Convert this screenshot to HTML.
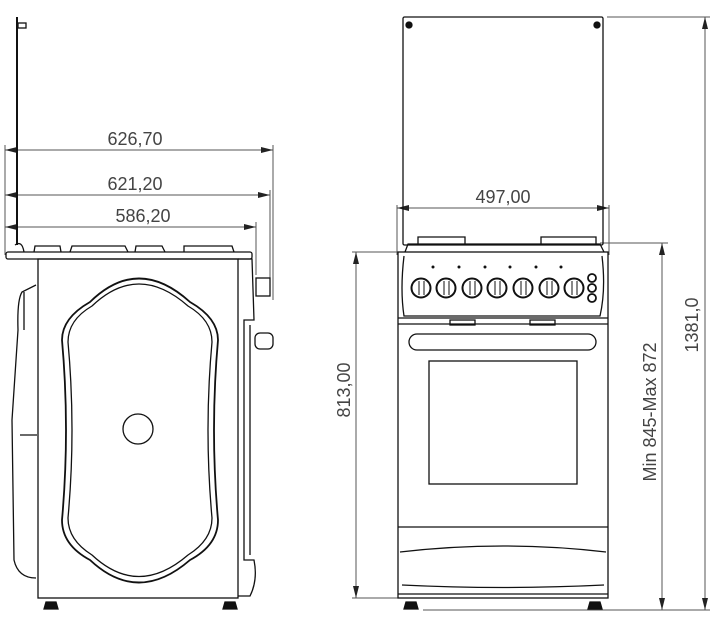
<!DOCTYPE html>
<html><head><style>html,body{margin:0;padding:0;background:#fff}svg{display:block}text{font-family:"Liberation Sans",sans-serif;fill:#444}</style></head>
<body>
<svg width="720" height="622" viewBox="0 0 720 622" xmlns="http://www.w3.org/2000/svg">
<defs>
<marker id="a" markerWidth="12" markerHeight="6" refX="12" refY="3" orient="auto-start-reverse" markerUnits="userSpaceOnUse"><path d="M0,0 L12,3 L0,6 Z" fill="#222"/></marker>
</defs>
<g stroke="#555" stroke-width="1" fill="none">
<line x1="5" y1="145" x2="5" y2="255"/>
<line x1="273" y1="145" x2="273" y2="300"/>
<line x1="270" y1="190" x2="270" y2="290"/>
<line x1="256" y1="222" x2="256" y2="275"/>
<line x1="5" y1="150" x2="273" y2="150" marker-start="url(#a)" marker-end="url(#a)"/>
<line x1="5" y1="195" x2="270" y2="195" marker-start="url(#a)" marker-end="url(#a)"/>
<line x1="5" y1="227" x2="256" y2="227" marker-start="url(#a)" marker-end="url(#a)"/>
<line x1="397" y1="205" x2="397" y2="255"/>
<line x1="609" y1="205" x2="609" y2="255"/>
<line x1="397" y1="208" x2="609" y2="208" marker-start="url(#a)" marker-end="url(#a)"/>
<line x1="352" y1="252" x2="398" y2="252"/>
<line x1="352" y1="598" x2="400" y2="598"/>
<line x1="356" y1="252" x2="356" y2="598" marker-start="url(#a)" marker-end="url(#a)"/>
<line x1="600" y1="243" x2="668" y2="243"/>
<line x1="662" y1="243" x2="662" y2="610" marker-start="url(#a)" marker-end="url(#a)"/>
<line x1="607" y1="17" x2="710" y2="17"/>
<line x1="423" y1="610" x2="710" y2="610"/>
<line x1="705" y1="17" x2="705" y2="610" marker-start="url(#a)" marker-end="url(#a)"/>
</g>
<g font-size="18">
<text x="135" y="145" text-anchor="middle">626,70</text>
<text x="135" y="190" text-anchor="middle">621,20</text>
<text x="143" y="222" text-anchor="middle">586,20</text>
<text x="503" y="203" text-anchor="middle">497,00</text>
<text transform="translate(350,390) rotate(-90)" text-anchor="middle">813,00</text>
<text transform="translate(656,412) rotate(-90)" text-anchor="middle">Min 845-Max 872</text>
<text transform="translate(698,325) rotate(-90)" text-anchor="middle">1381,0</text>
</g>
<!-- SIDE VIEW -->
<g stroke="#111" fill="none" stroke-width="1.3">
<line x1="17" y1="17" x2="17" y2="245" stroke-width="2"/>
<rect x="18" y="23" width="8" height="5"/>
<path d="M15,245 Q22,240 24,252"/>
<rect x="6" y="252" width="246" height="7" rx="2"/>
<path d="M34,252 L35,246 L60,246 L61,252 M70,252 L72,246 L125,246 L128,252 M135,252 L136,246 L162,246 L165,252 M184,252 L184,246 L232,246 L234,252"/>
<rect x="38" y="259" width="200" height="339"/>
<path d="M44,609 L46,602 L56,602 L58,609 Z" fill="#111"/>
<path d="M223,609 L225,602 L235,602 L237,609 Z" fill="#111"/>
<path d="M36,285 L22,292 Q17,300 18,330 L12,420 L14,560 Q18,578 36,578" stroke-width="1.3"/>
<path d="M24,292 L24,330 M20,435 L37,435"/>
<path d="M90,302 Q138,255 190,302 Q218,318 218,340 Q210,430 218,520 Q218,545 190,560 Q138,605 90,560 Q62,545 62,520 Q70,430 62,340 Q62,318 90,302 Z" stroke-width="1.8"/>
<path d="M92,306 Q138,262 188,306 Q212,320 212,342 Q204,430 212,518 Q212,540 188,555 Q138,598 92,555 Q68,540 68,518 Q76,430 68,342 Q68,320 92,306 Z"/>
<circle cx="138" cy="429" r="15"/>
<path d="M238,259 L252,259 L254,320 L244,320 L244,560 L254,560 Q258,580 250,596 L238,596"/>
<rect x="256" y="278" width="14" height="18"/>
<rect x="255" y="333" width="18" height="16" rx="5"/>
<line x1="250" y1="325" x2="250" y2="555"/>
</g>
<!-- FRONT VIEW -->
<g stroke="#111" fill="none" stroke-width="1.3">
<rect x="403" y="17" width="200" height="228" rx="1.5"/>
<circle cx="409" cy="25" r="3" fill="#111"/><circle cx="597" cy="25" r="3" fill="#111"/>
<path d="M418,245 L418,237 L465,237 L465,245 M541,245 L541,237 L596,237 L596,245"/>
<path d="M405,252 L408,244 L600,244 L604,252"/>
<rect x="398" y="252" width="210" height="346"/>
<path d="M404,256 Q400,290 404,316 L600,316 Q606,290 602,256"/>
<line x1="398" y1="318" x2="608" y2="318"/>
<line x1="398" y1="324" x2="608" y2="324"/>
<rect x="450" y="320" width="25" height="5"/><rect x="530" y="320" width="25" height="5"/>
<rect x="409" y="334" width="187" height="16" rx="8"/>
<rect x="429" y="361" width="148" height="123"/>
<line x1="398" y1="527" x2="608" y2="527"/>
<path d="M400,552 Q503,540 606,552 M402,585 Q503,590 604,585"/>
<line x1="398" y1="594" x2="608" y2="594"/>
<path d="M404,609 L406,602 L416,602 L418,609 Z" fill="#111"/>
<path d="M588,609 L590,602 L600,602 L602,609 Z" fill="#111"/>
<g stroke-width="2">
<circle cx="421" cy="288" r="9.5"/><circle cx="446" cy="288" r="9.5"/><circle cx="472" cy="288" r="9.5"/><circle cx="497" cy="288" r="9.5"/><circle cx="523" cy="288" r="9.5"/><circle cx="549" cy="288" r="9.5"/><circle cx="574" cy="288" r="9.5"/>
</g>
<path d="M419,281 L419,295 M424,281 L424,295 M444,281 L444,295 M449,281 L449,295 M470,281 L470,295 M475,281 L475,295 M495,281 L495,295 M500,281 L500,295 M521,281 L521,295 M526,281 L526,295 M547,281 L547,295 M552,281 L552,295 M572,281 L572,295 M577,281 L577,295" stroke-width="1"/>
<circle cx="592" cy="278" r="4" stroke-width="1.8"/><circle cx="592" cy="288" r="4" stroke-width="1.8"/><circle cx="592" cy="298" r="4" stroke-width="1.8"/>
<g fill="#111" stroke="none"><circle cx="433" cy="267" r="1.5"/><circle cx="459" cy="267" r="1.5"/><circle cx="485" cy="267" r="1.5"/><circle cx="510" cy="267" r="1.5"/><circle cx="536" cy="267" r="1.5"/><circle cx="561" cy="267" r="1.5"/></g>
</g>
</svg>
</body></html>
